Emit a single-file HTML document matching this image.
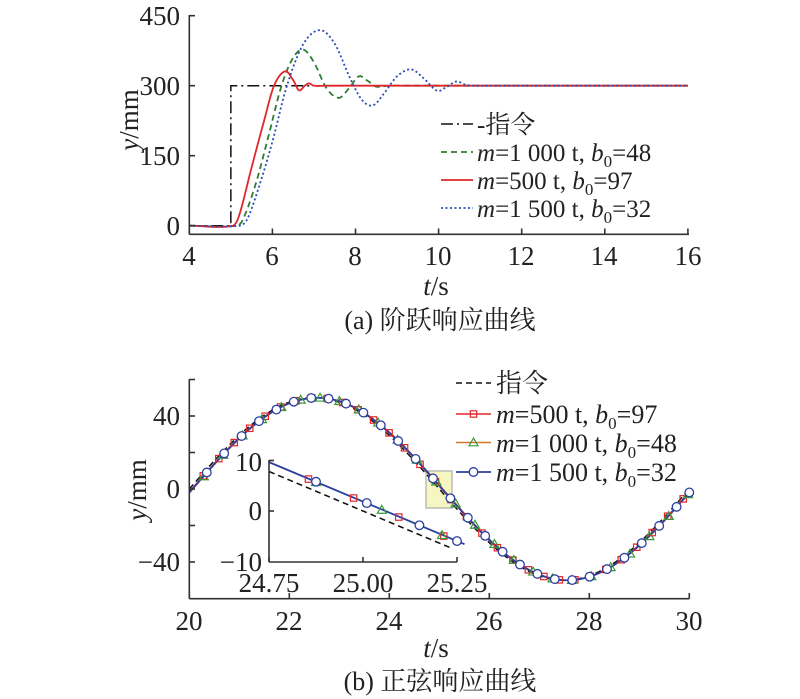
<!DOCTYPE html>
<html><head><meta charset="utf-8">
<style>
html,body{margin:0;padding:0;background:#fff;}
svg{display:block;}
text{font-family:"Liberation Serif","Noto Serif CJK SC","Noto Sans CJK SC",serif;fill:#222;}
</style></head>
<body>
<svg id="s" width="800" height="699" viewBox="0 0 800 699" xmlns="http://www.w3.org/2000/svg">
<g id="g"></g>
<g font-size="27">
 <text x="180" y="25" text-anchor="end">450</text>
 <text x="180" y="95" text-anchor="end">300</text>
 <text x="180" y="165" text-anchor="end">150</text>
 <text x="180" y="235" text-anchor="end">0</text>
 <text x="189" y="265" text-anchor="middle">4</text>
 <text x="272" y="265" text-anchor="middle">6</text>
 <text x="355" y="265" text-anchor="middle">8</text>
 <text x="438" y="265" text-anchor="middle">10</text>
 <text x="521" y="265" text-anchor="middle">12</text>
 <text x="604" y="265" text-anchor="middle">14</text>
 <text x="688" y="265" text-anchor="middle">16</text>
 <text x="436" y="295" text-anchor="middle"><tspan font-style="italic">t</tspan>/s</text>
 <text transform="translate(138,120) rotate(-90)" text-anchor="middle"><tspan font-style="italic">y</tspan>/mm</text>
 <text x="440" y="329" text-anchor="middle" font-size="26">(a) 阶跃响应曲线</text>
 <text x="180" y="425" text-anchor="end">40</text>
 <text x="180" y="498" text-anchor="end">0</text>
 <text x="180" y="571" text-anchor="end">−40</text>
 <text x="189" y="630" text-anchor="middle">20</text>
 <text x="289" y="630" text-anchor="middle">22</text>
 <text x="389" y="630" text-anchor="middle">24</text>
 <text x="489" y="630" text-anchor="middle">26</text>
 <text x="589" y="630" text-anchor="middle">28</text>
 <text x="689" y="630" text-anchor="middle">30</text>
 <text x="436" y="657" text-anchor="middle"><tspan font-style="italic">t</tspan>/s</text>
 <text transform="translate(146,490) rotate(-90)" text-anchor="middle"><tspan font-style="italic">y</tspan>/mm</text>
 <text x="440" y="690" text-anchor="middle" font-size="26">(b) 正弦响应曲线</text>
 <text x="262" y="471" text-anchor="end">10</text>
 <text x="262" y="520" text-anchor="end">0</text>
 <text x="262" y="571" text-anchor="end">−10</text>
 <text x="269" y="592" text-anchor="middle">24.75</text>
 <text x="363" y="592" text-anchor="middle">25.00</text>
 <text x="457" y="592" text-anchor="middle">25.25</text>
</g>
<g font-size="25">
 <text x="477" y="133">-指令</text>
 <text x="477" y="161"><tspan font-style="italic">m</tspan>=1 000 t, <tspan font-style="italic">b</tspan><tspan font-size="17" dy="6">0</tspan><tspan dy="-6">=48</tspan></text>
 <text x="477" y="189"><tspan font-style="italic">m</tspan>=500 t, <tspan font-style="italic">b</tspan><tspan font-size="17" dy="6">0</tspan><tspan dy="-6">=97</tspan></text>
 <text x="477" y="217"><tspan font-style="italic">m</tspan>=1 500 t, <tspan font-style="italic">b</tspan><tspan font-size="17" dy="6">0</tspan><tspan dy="-6">=32</tspan></text>
</g>
<g font-size="26">
 <text x="496" y="392">指令</text>
 <text x="496" y="423"><tspan font-style="italic">m</tspan>=500 t, <tspan font-style="italic">b</tspan><tspan font-size="17" dy="6">0</tspan><tspan dy="-6">=97</tspan></text>
 <text x="496" y="452"><tspan font-style="italic">m</tspan>=1 000 t, <tspan font-style="italic">b</tspan><tspan font-size="17" dy="6">0</tspan><tspan dy="-6">=48</tspan></text>
 <text x="496" y="481"><tspan font-style="italic">m</tspan>=1 500 t, <tspan font-style="italic">b</tspan><tspan font-size="17" dy="6">0</tspan><tspan dy="-6">=32</tspan></text>
</g>
</svg>
<script>
var NS="http://www.w3.org/2000/svg",G=document.getElementById('g');
function el(n,a){var e=document.createElementNS(NS,n);for(var k in a)e.setAttribute(k,a[k]);G.appendChild(e);return e;}
function line(x1,y1,x2,y2,a){a=a||{};a.x1=x1;a.y1=y1;a.x2=x2;a.y2=y2;if(!a.stroke)a.stroke="#333";if(!a['stroke-width'])a['stroke-width']=1.6;return el('line',a);}
function poly(pts,a){a.points=pts.map(function(p){return p[0].toFixed(2)+","+p[1].toFixed(2)}).join(" ");a.fill="none";return el('polyline',a);}
var TX=function(t){return 189.3+(t-4)*41.55},TY=function(v){return 225.7-v*0.4667};
function spline(P,t){
 if(t<=P[0][0])return P[0][1]; if(t>=P[P.length-1][0])return P[P.length-1][1];
 var i=0;while(P[i+1][0]<t)i++;
 var p0=P[Math.max(0,i-1)],p1=P[i],p2=P[i+1],p3=P[Math.min(P.length-1,i+2)];
 var s=(t-p1[0])/(p2[0]-p1[0]),h=p2[0]-p1[0];
 var m1=(p2[1]-p0[1])/(p2[0]-p0[0])*h,m2=(p3[1]-p1[1])/(p3[0]-p1[0])*h;
 if(i==0)m1=0;
 var s2=s*s,s3=s2*s;
 return (2*s3-3*s2+1)*p1[1]+(s3-2*s2+s)*m1+(-2*s3+3*s2)*p2[1]+(s3-s2)*m2;
}
var red=[[4,0],[5.05,0],[5.2,22],[5.5,125],[5.8,225],[6.04,300],[6.31,331],[6.5,312],[6.64,290],[6.78,300],[6.88,305],[7.0,300],[7.3,300],[16,300]];
var grn=[[4,0],[5.15,0],[5.3,15],[5.6,90],[5.9,190],[6.22,300],[6.5,360],[6.75,377],[7.0,350],[7.3,295],[7.6,274],[7.85,295],[8.08,320],[8.3,310],[8.5,298],[8.8,300],[9.2,300],[16,300]];
var blu=[[4,0],[5.2,0],[5.4,15],[5.7,90],[6.0,180],[6.35,300],[6.75,390],[7.15,419],[7.5,390],[7.85,320],[8.15,270],[8.42,258],[8.7,285],[9.0,320],[9.34,335],[9.65,315],[9.97,289],[10.2,298],[10.43,309],[10.65,302],[10.85,300],[11.2,300],[16,300]];
function curve(P){var r=[];for(var t=4;t<=16.0001;t+=0.01)r.push([TX(t),TY(spline(P,t))]);return r;}
poly([[TX(4),TY(0)],[TX(5),TY(0)],[TX(5),TY(300)],[TX(16),TY(300)]],{stroke:"#111","stroke-width":1.5,"stroke-dasharray":"12,4,2,4"});
poly(curve(grn),{stroke:"#2e7d32","stroke-width":1.8,"stroke-dasharray":"6,4"});
poly(curve(red),{stroke:"#e0262a","stroke-width":1.8});
poly(curve(blu),{stroke:"#2a4bb5","stroke-width":1.8,"stroke-dasharray":"2,2.5"});
line(189.3,15,189.3,234.3);line(189.3,234.3,689,234.3);
[0,150,300,450].forEach(function(v){line(189.3,TY(v),195,TY(v));});
for(var t=4;t<=16;t+=2)line(TX(t),234.3,TX(t),228.5);
line(441,124,473,124,{stroke:"#111","stroke-dasharray":"12,4,2,4","stroke-width":1.5});
line(441,152,473,152,{stroke:"#2e7d32","stroke-dasharray":"6,4","stroke-width":1.8});
line(441,180,473,180,{stroke:"#e0262a","stroke-width":1.8});
line(441,208,473,208,{stroke:"#2a4bb5","stroke-dasharray":"2,2.5","stroke-width":1.8});
var BX=function(t){return 189.3+(t-20)*50},BY=function(v){return 489-v*1.825};
function sn(t,lag){return 50*Math.sin(Math.PI*(t-20-lag)/5);}
var cmd=[],rr=[],gg=[],bb=[];
for(var t=20;t<=30.0001;t+=0.02){cmd.push([BX(t),BY(sn(t,0))]);rr.push([BX(t),BY(sn(t,0.05))]);gg.push([BX(t),BY(sn(t,0.07))]);bb.push([BX(t),BY(sn(t,0.06))]);}
el('rect',{x:426,y:471,width:26,height:37,fill:"#f6f6c2",stroke:"#bbb","stroke-width":1.5});
poly(cmd,{stroke:"#111","stroke-width":1.5,"stroke-dasharray":"6,4"});
poly(rr,{stroke:"#e0262a","stroke-width":1.5});
poly(gg,{stroke:"#d2772e","stroke-width":1.5});
poly(bb,{stroke:"#2a3f9f","stroke-width":1.8});
function sq(x,y){el('rect',{x:x-3.2,y:y-3.2,width:6.4,height:6.4,fill:"none",stroke:"#e0262a","stroke-width":1.2});}
function tri(x,y){el('polygon',{points:(x)+","+(y-4.5)+" "+(x-4.5)+","+(y+3.3)+" "+(x+4.5)+","+(y+3.3),fill:"none",stroke:"#3a9a3a","stroke-width":1.2});}
function cir(x,y){el('circle',{cx:x,cy:y,r:4.3,fill:"#fff",stroke:"#2a3f9f","stroke-width":1.3});}
for(var k=0;k<=31;k++){var t=20.28+0.3096*k;if(t>30)break;sq(BX(t),BY(sn(t,0.05)));}
for(var k=0;k<=30;k++){var t=20.29+0.3875*k;if(t>30)break;tri(BX(t),BY(sn(t,0.07)));}
for(var k=0;k<=28;k++){var t=20.35+0.348*k;if(t>30)break;cir(BX(t),BY(sn(t,0.06)));}
cir(BX(30),BY(sn(30,0.06)));
line(189.3,379,189.3,598.7);line(189.3,598.7,689.3,598.7);
[60,40,20,0,-20,-40].forEach(function(v){line(189.3,BY(v),195,BY(v));});
for(var t=20;t<=30;t+=2)line(BX(t),598.7,BX(t),593);
var IX=function(t){return 269+(t-24.75)*376},IY=function(v){return 511-v*5.05};
poly([[IX(24.75),IY(sn(24.75,0))],[IX(25.23),IY(sn(25.23,0))]],{stroke:"#111","stroke-width":1.5,"stroke-dasharray":"6,4"});
poly([[IX(24.75),IY(sn(24.75,0.06))],[IX(25.27),IY(sn(25.27,0.06))]],{stroke:"#2a3f9f","stroke-width":1.8});
[24.855,24.975,25.095,25.215].forEach(function(t){sq(IX(t),IY(sn(t,0.06))+0.5);});
[24.875,25.05,25.21].forEach(function(t){tri(IX(t),IY(sn(t,0.06))+0.5);});
[24.875,25.01,25.15,25.25].forEach(function(t){cir(IX(t),IY(sn(t,0.06)));});
line(269,460,269,562);line(269,562,457,562);
[10,0].forEach(function(v){line(269,IY(v),274,IY(v));});
[24.75,25,25.25].forEach(function(t){line(IX(t),562,IX(t),557);});
line(456,383,491,383,{stroke:"#111","stroke-dasharray":"6,4","stroke-width":1.5});
line(456,414,491,414,{stroke:"#e0262a","stroke-width":1.5});sq(473.5,414);
line(456,442.5,491,442.5,{stroke:"#d2772e","stroke-width":1.5});tri(473.5,442.5);
line(456,472,491,472,{stroke:"#2a3f9f","stroke-width":1.8});cir(473.5,472);
</script>
</body></html>
